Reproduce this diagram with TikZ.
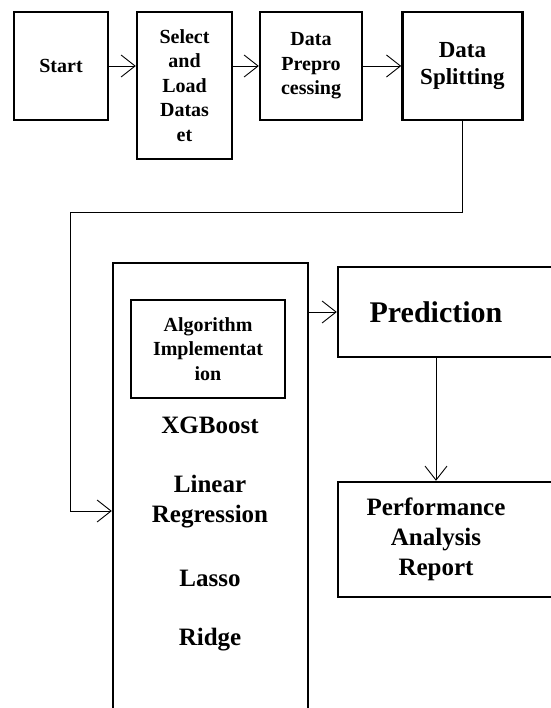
\documentclass[tikz,border=0pt]{standalone}
\usepackage{fontspec}
\setmainfont{Liberation Serif}
\usetikzlibrary{positioning,arrows.meta}

\begin{document}
\begin{tikzpicture}[x=1pt,y=-1pt,
		box/.style={draw, line width=2.4pt, align=center, inner sep=0pt, font=\bfseries\fontsize{20}{24.5}\selectfont},
		big/.style={align=center, font=\bfseries\fontsize{25}{30}\selectfont},
		arr/.style={-{Straight Barb[length=14pt,width=22pt]}, line width=0.9pt}]
		\useasboundingbox (0,0) rectangle (550,708);

		% top row
		\node[box, minimum width=94pt, minimum height=108pt] (start) at (61,66) {Start};
		\node[box, minimum width=95pt, minimum height=147pt] (select) at (184.5,85.5) {Select\\and\\Load\\Datas\\et};
		\node[box, minimum width=102pt, minimum height=108pt] (prep) at (311,66) {Data\\Prepro\\cessing};
		\node[box, minimum width=120pt, minimum height=108pt, right=38pt of prep, font=\bfseries\fontsize{23}{27}\selectfont] (split) {Data\\Splitting};

		% algorithms
		\node[box, minimum width=195pt, minimum height=496pt] (algs) at (210.5,511) {};
		\node[box, minimum width=154pt, minimum height=98pt] (impl) at (208,349) {Algorithm\\Implementat\\ion};
		\node[big] (xgb) at (210,425) {XGBoost};
		\node[big] (linreg) at (210,502) {Linear\\Regression};
		\node[big] (lasso) at (210,578) {Lasso};
		\node[big] (ridge) at (210,640) {Ridge};

		% results
		\node[box, minimum width=224pt, minimum height=90pt, label={[name=predtxt, xshift=-14pt, font=\bfseries\fontsize{30}{36}\selectfont]center:Prediction}] (pred) at (450,312) {};
		\node[box, minimum width=224pt, minimum height=115pt, label={[name=perftxt, xshift=-14pt, big]center:Performance\\Analysis\\Report}] (perf) at (450,539.5) {};

		\coordinate (turn) at (70,212);

		\draw[arr] (start) -- (start -| select.west);
		\draw[arr] (select.east |- prep) -- (prep);
		\draw[arr] (prep) -- (split);
		\draw[arr] (split.south) |- (turn) |- (algs.west);
		\draw[arr, yshift=-6pt] (algs.east |- pred) -- (pred);
		\draw[arr] (predtxt |- pred.south) -- (predtxt |- perf.north);
	\end{tikzpicture}
\end{document}
